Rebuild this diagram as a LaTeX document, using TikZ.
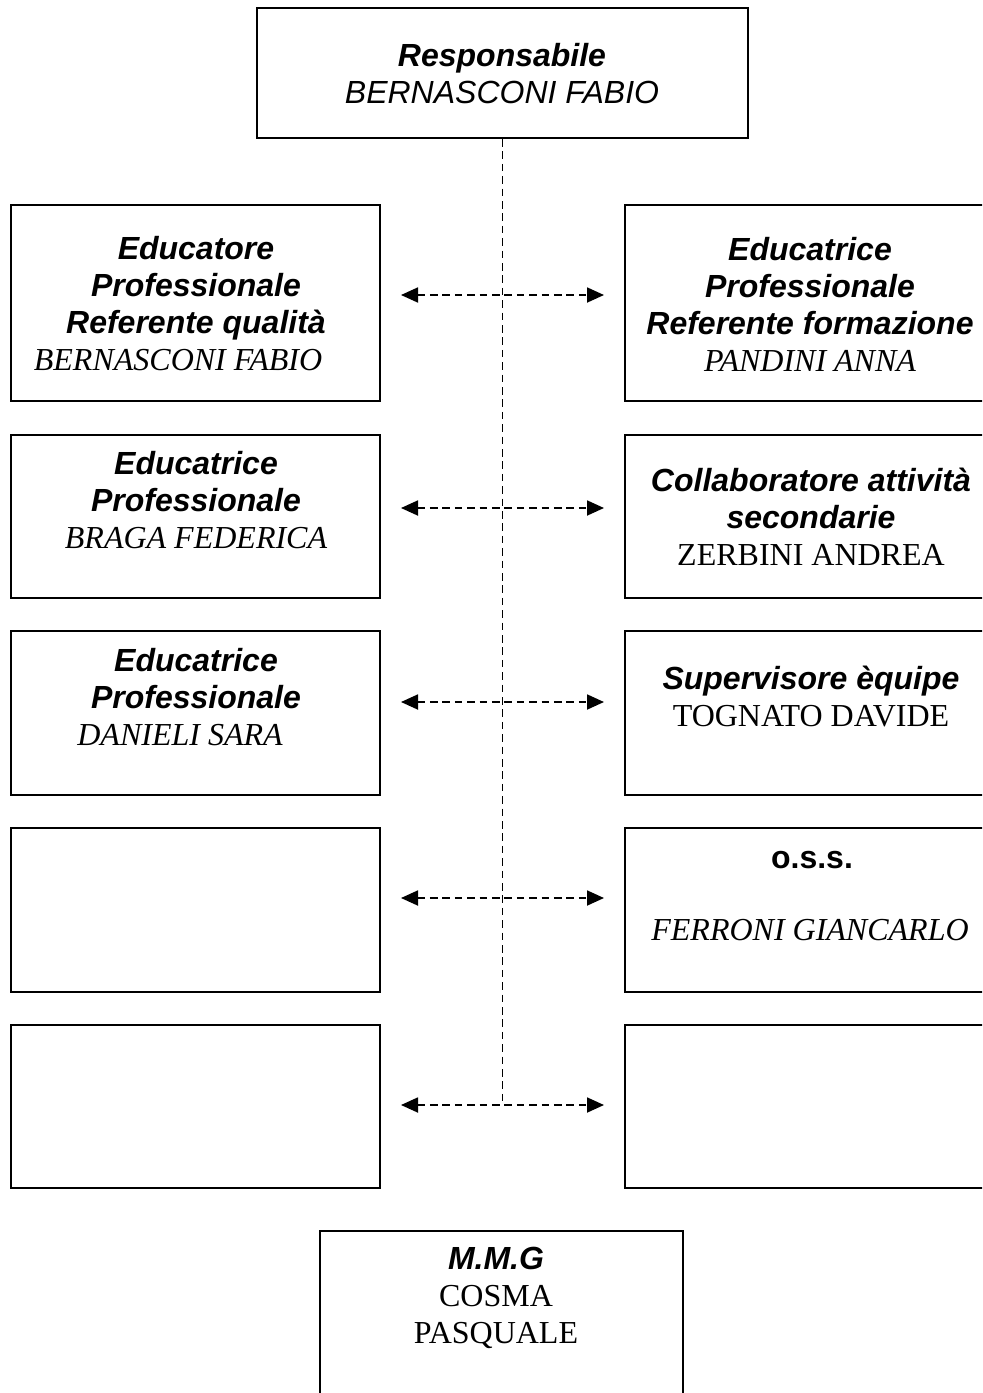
\documentclass[tikz,border=0pt]{standalone}
\usepackage{fontspec}
\setmainfont{Liberation Serif}
\setsansfont{Liberation Sans}
\usetikzlibrary{arrows.meta}
\newcommand\hdf{\sffamily\bfseries\itshape}
\newcommand\nmi{\rmfamily\itshape}
\newcommand\nmu{\rmfamily\upshape}
\begin{document}
\begin{tikzpicture}[x=0.5pt,y=-0.5pt,
  box/.style={draw=black, line width=1pt, inner sep=0pt, rectangle},
  lbox/.style={box, minimum width=184.5pt},
  rbox/.style={box, minimum width=187.5pt},
  txt/.style={align=center, inner sep=0pt, font=\fontsize{16}{18.5}\selectfont},
  dline/.style={line width=0.9pt, dash pattern=on 3.8pt off 2.4pt},
  arr/.style={dline, {Triangle[length=8.5pt,width=7.5pt]}-{Triangle[length=8.5pt,width=7.5pt]}}
]
\useasboundingbox (0,0) rectangle (982,1393);
\clip (0,0) rectangle (982,1393);
\fill[white] (0,0) rectangle (982,1393);

% boxes
\node[box, minimum width=245.5pt, minimum height=65pt] (top) at (502.5,73) {};
\node[lbox, minimum height=98pt]   (L1) at (195.5,303) {};
\node[lbox, minimum height=81.5pt] (L2) at (195.5,516.5) {};
\node[lbox, minimum height=82pt]   (L3) at (195.5,713) {};
\node[lbox, minimum height=82pt]   (L4) at (195.5,910) {};
\node[lbox, minimum height=81.5pt] (L5) at (195.5,1106.5) {};
\node[rbox, minimum height=98pt]   (R1) at (812.5,303) {};
\node[rbox, minimum height=81.5pt] (R2) at (812.5,516.5) {};
\node[rbox, minimum height=82pt]   (R3) at (812.5,713) {};
\node[rbox, minimum height=82pt]   (R4) at (812.5,910) {};
\node[rbox, minimum height=81.5pt] (R5) at (812.5,1106.5) {};
\node[box, minimum width=181.5pt, minimum height=94.5pt] (mmg) at (501.5,1325.5) {};

% texts
\node[txt] (ttop) at (502,74) {{\hdf Responsabile}\\{\sffamily\itshape BERNASCONI FABIO}};
\node[txt] (tL1) at (196,304) {{\hdf Educatore}\\{\hdf Professionale}\\{\hdf Referente qualità}\\{\nmi BERNASCONI FABIO\hspace*{18pt}}};
\node[txt] (tR1) at (810,304) {{\hdf Educatrice}\\{\hdf Professionale}\\{\hdf Referente formazione}\\{\nmi PANDINI ANNA}};
\node[txt] (tL2) at (196,500) {{\hdf Educatrice}\\{\hdf Professionale}\\{\nmi BRAGA FEDERICA}};
\node[txt] (tR2) at (811,517) {{\hdf Collaboratore attività}\\{\hdf secondarie}\\{\nmu ZERBINI ANDREA}};
\node[txt] (tL3) at (196,697) {{\hdf Educatrice}\\{\hdf Professionale}\\{\nmi DANIELI SARA\hspace*{16pt}}};
\node[txt] (tR3) at (811,696) {{\hdf Supervisore èquipe}\\{\nmu TOGNATO DAVIDE}};
\node[txt] (tR4a) at (812,860) {\sffamily\bfseries o.s.s.};
\node[txt] (tR4b) at (810,930) {\nmi FERRONI GIANCARLO};
\node[txt] (tmmg) at (496,1298) {{\hdf M.M.G}\\{\nmu COSMA}\\{\nmu PASQUALE}};

% connectors
\coordinate (vend) at (502.5,1105);
\draw[dline] (top.south) -- (vend);
\foreach \i/\yy in {1/295,2/508,3/702,4/898,5/1105}{
  \coordinate (al\i) at (401,\yy);
  \coordinate (ar\i) at (604,\yy);
}
\draw[arr] (al1) -- (ar1);
\draw[arr] (al2) -- (ar2);
\draw[arr] (al3) -- (ar3);
\draw[arr] (al4) -- (ar4);
\draw[arr] (al5) -- (ar5);
\end{tikzpicture}
\end{document}
